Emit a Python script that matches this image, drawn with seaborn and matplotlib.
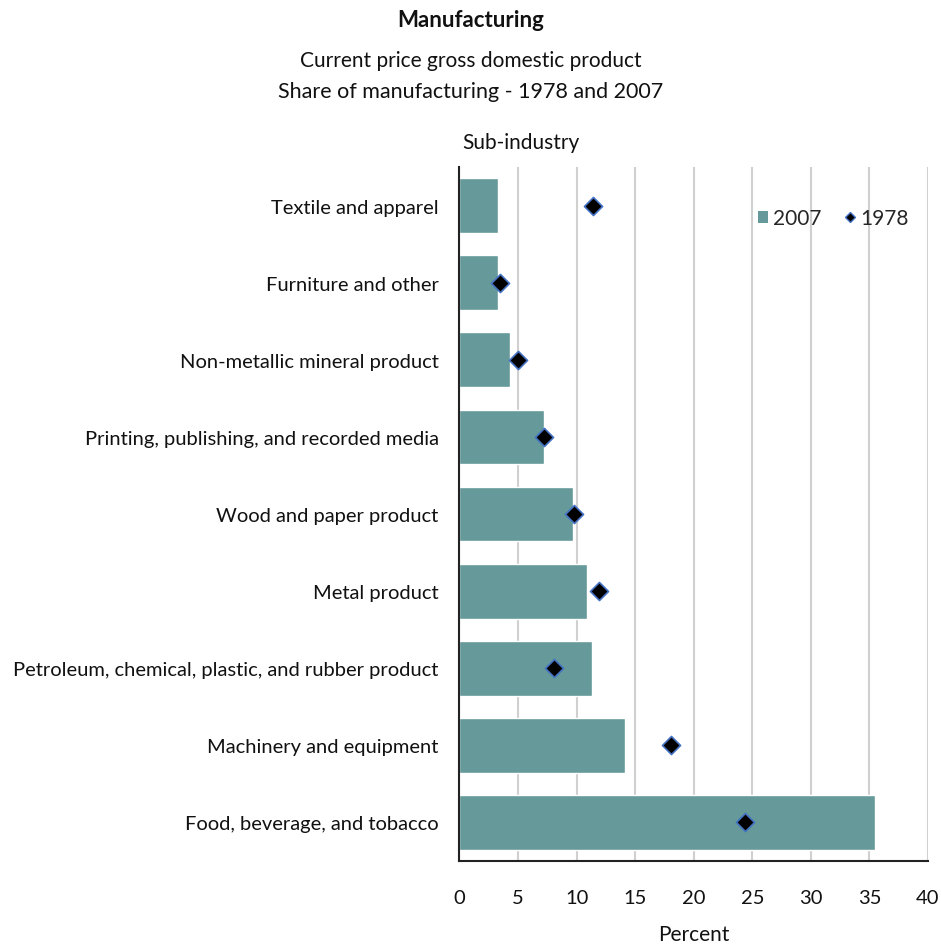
import matplotlib
matplotlib.use("Agg")
import matplotlib.pyplot as plt
import seaborn as sns
import pandas as pd
from matplotlib.lines import Line2D
from matplotlib.patches import Patch

categories = [
    "Textile and apparel",
    "Furniture and other",
    "Non-metallic mineral product",
    "Printing, publishing, and recorded media",
    "Wood and paper product",
    "Metal product",
    "Petroleum, chemical, plastic, and rubber product",
    "Machinery and equipment",
    "Food, beverage, and tobacco",
]
share_2007 = [3.3, 3.3, 4.3, 7.2, 9.7, 10.9, 11.3, 14.1, 35.5]
share_1978 = [11.4, 3.5, 5.0, 7.2, 9.8, 11.9, 8.1, 18.1, 24.4]
xticks = [0, 5, 10, 15, 20, 25, 30, 35, 40]

df = pd.DataFrame({"cat": categories, "y2007": share_2007, "y1978": share_1978})

sns.set_theme(style="white")
FONT = ["Lato", "DejaVu Sans"]
plt.rcParams["font.family"] = FONT

teal = "#669999"
fig = plt.figure(figsize=(9.41, 9.45), dpi=100)
ax = fig.add_axes([0.4883, 0.0878, 0.4979, 0.7344])

sns.barplot(data=df, x="y2007", y="cat", orient="h", color=teal, width=0.71,
            saturation=1, ax=ax, zorder=2)
sns.scatterplot(data=df, x="y1978", y="cat", marker="D", s=85, color="black",
                edgecolor="#4472C4", linewidth=1.2, ax=ax, zorder=3, legend=False)

ax.set_xlim(0, 40)
ax.set_ylim(8.5, -0.5)
ax.set_xticks(xticks)
ax.set_xticklabels([str(t) for t in xticks])
ax.xaxis.grid(True, color="#D0D0D0", linewidth=1.5, zorder=0)
ax.yaxis.grid(False)
ax.set_axisbelow(True)
for s in ["top", "right"]:
    ax.spines[s].set_visible(False)
for s in ["left", "bottom"]:
    ax.spines[s].set_color("#222222")
    ax.spines[s].set_linewidth(1.5)
ax.tick_params(axis="x", length=0, pad=20, labelsize=14.5, colors="#111111")
ax.tick_params(axis="y", length=0, pad=15, labelsize=14.5, colors="#111111")
ax.set_ylabel("")
ax.set_xlabel("Percent", fontsize=15, labelpad=13, color="#111111")

ax.text(0.005, 1.022, "Sub-industry", transform=ax.transAxes, fontsize=15,
        ha="left", va="bottom", color="#111111")

handles = [Patch(facecolor=teal, edgecolor="none"),
           Line2D([], [], marker="D", linestyle="none", markersize=5,
                  markerfacecolor="black", markeredgecolor="#4472C4", markeredgewidth=1)]
ax.legend(handles, ["2007", "1978"], loc="upper right", bbox_to_anchor=(0.99, 0.962),
          ncol=2, frameon=False, fontsize=15, handlelength=0.5, handleheight=0.5,
          handletextpad=0.25, columnspacing=1.1, borderaxespad=0.3)

fig.text(0.5, 0.978, "Manufacturing", ha="center", va="center", fontsize=16,
         fontweight="bold", color="#111111")
fig.text(0.5, 0.935, "Current price gross domestic product", ha="center",
         va="center", fontsize=15, color="#111111")
fig.text(0.5, 0.903, "Share of manufacturing - 1978 and 2007", ha="center",
         va="center", fontsize=15.5, color="#111111")

fig.savefig("out.png", dpi=100)
